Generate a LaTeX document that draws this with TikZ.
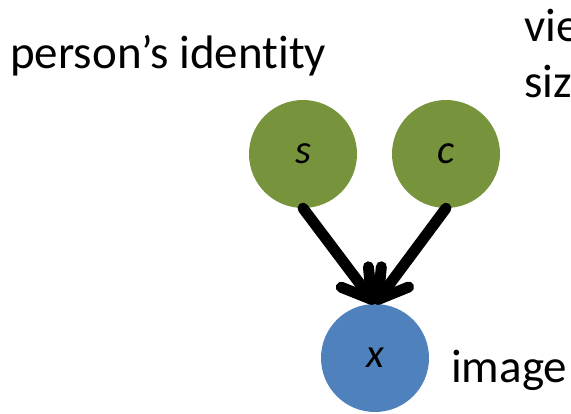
\documentclass[tikz,border=0pt]{standalone}
\usepackage{fontspec}
\setmainfont[Ligatures=NoCommon]{Carlito}
\usetikzlibrary{arrows.meta, positioning}
\definecolor{cgreen}{HTML}{77933C}
\definecolor{cblue}{HTML}{4F81BD}
\tikzset{
  every picture/.style={font=\fontsize{47}{54}\selectfont},
  var/.style={circle, fill=#1, draw=none, minimum size=108pt, inner sep=0pt, font=\fontsize{41}{48}\selectfont\itshape},
  var/.default=cgreen,
  edge/.style={-{Straight Barb[length=28pt, width=34pt, line cap=round, round]}, line width=11pt, line cap=round, black},
  lbl/.style={anchor=base west, inner sep=0pt},
}

\begin{document}
\begin{tikzpicture}[x=1pt, y=-1pt]
  \useasboundingbox (0,0) rectangle (571,414);
  % ---- latent causes
  \node[var] (s) at (303,154) {s};
  \node[var] (c) at (446,154) {c};
  % ---- observed
  \node[var=cblue] (x) at (375,358) {x};
  % ---- labels
  \node[lbl] (idtext) at (10,69) {person’s identity};
  \node[lbl] (vtext) at (524,42) {vie};
  \node[lbl] (ztext) at (524,98) {siz};
  \node[lbl] (imtext) at (451,383) {image};
  % ---- edges
  \draw[edge] (s.south) -- (x.north);
  \draw[edge] (c.south) -- (x.north);
\end{tikzpicture}
\end{document}
